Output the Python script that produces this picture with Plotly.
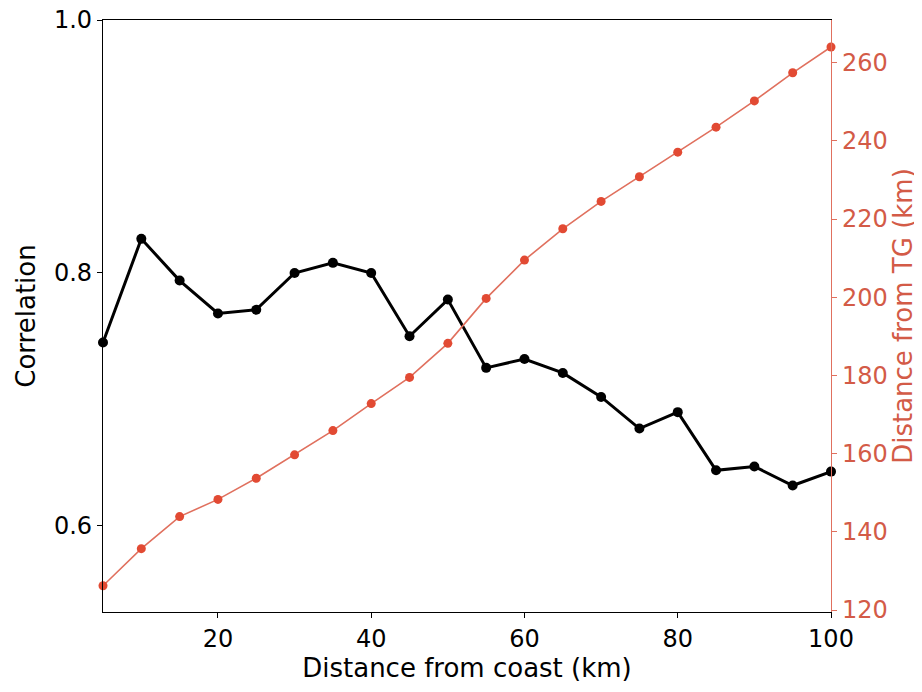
import plotly.graph_objects as go

distance_from_coast = [5, 10, 15, 20, 25, 30, 35, 40, 45, 50,
                       55, 60, 65, 70, 75, 80, 85, 90, 95, 100]
correlation = [0.745, 0.827, 0.794, 0.768, 0.771, 0.800, 0.808, 0.800, 0.750, 0.779,
               0.725, 0.732, 0.721, 0.702, 0.677, 0.690, 0.644, 0.647, 0.632, 0.643]
distance_from_tg = [126.2, 135.7, 143.9, 148.3, 153.7, 159.7, 165.9, 172.8, 179.5, 188.2,
                    199.7, 209.5, 217.5, 224.5, 230.8, 237.1, 243.5, 250.2, 257.4, 264.0]

RED = "#e24a33"
RED_LINE = "#e0705e"
RED_TEXT = "#d35b47"
FONT = "DejaVu Sans"
TICK_FS = 24
TITLE_FS = 26
RIGHT_TITLE_FS = 26

fig = go.Figure()
fig.add_trace(go.Scatter(
    x=distance_from_coast, y=correlation, mode="lines+markers",
    line=dict(color="black", width=3),
    marker=dict(color="black", size=10),
    showlegend=False, yaxis="y", cliponaxis=False,
))
fig.add_trace(go.Scatter(
    x=distance_from_coast, y=distance_from_tg, mode="lines+markers",
    line=dict(color=RED_LINE, width=1.6),
    marker=dict(color=RED, size=9),
    showlegend=False, yaxis="y2", cliponaxis=False,
))

fig.update_layout(
    width=922, height=692,
    margin=dict(l=95, r=99, t=12, b=88),
    plot_bgcolor="white", paper_bgcolor="white",
    font=dict(family=FONT, size=TICK_FS, color="black"),
    xaxis=dict(
        range=[5, 100], tickvals=[20, 40, 60, 80, 100],
        showline=True, linecolor="black", linewidth=1.2, mirror=True,
        ticks="outside", ticklen=5, tickcolor="black",
        showgrid=False, zeroline=False, automargin=False,
        ticklabeloverflow="allow",
        title=dict(text="Distance from coast (km)", font=dict(size=TITLE_FS), standoff=2),
        tickfont=dict(size=TICK_FS),
    ),
    yaxis=dict(
        range=[0.532, 1.0], tickvals=[0.6, 0.8, 1.0], ticktext=["0.6", "0.8", "1.0"],
        showline=True, linecolor="black", linewidth=1.2,
        ticks="outside", ticklen=5, tickcolor="black",
        showgrid=False, zeroline=False, automargin=False,
        ticklabeloverflow="allow",
        title=dict(text="Correlation", font=dict(size=TITLE_FS), standoff=10),
        tickfont=dict(size=TICK_FS),
    ),
    yaxis2=dict(
        range=[119.5, 270.9], tickvals=[120, 140, 160, 180, 200, 220, 240, 260],
        overlaying="y", side="right",
        showline=True, linecolor=RED_LINE, linewidth=1.2,
        ticks="outside", ticklen=5, tickcolor=RED_LINE,
        showgrid=False, zeroline=False, automargin=False,
        ticklabeloverflow="allow",
        title=dict(text="Distance from TG (km)", font=dict(size=RIGHT_TITLE_FS, color=RED_TEXT), standoff=5),
        tickfont=dict(size=TICK_FS, color=RED_TEXT),
    ),
)

fig.write_html("out.html")
